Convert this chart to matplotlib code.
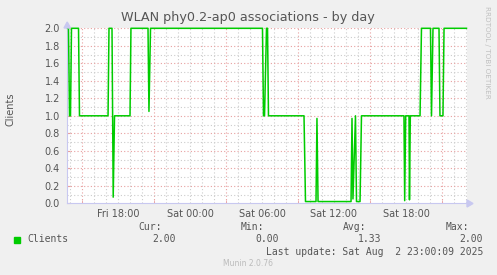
import matplotlib
matplotlib.use("Agg")
import matplotlib.pyplot as plt
import numpy as np

# hours since Fri 00:00 and number of associated clients
hours = [13.79, 13.875, 13.96, 14.04, 14.125, 14.71, 14.79, 17.17, 17.25, 17.5,
         17.6, 17.71, 19.0, 19.08, 20.5, 20.58, 20.71, 30.04, 30.125, 30.21,
         30.375, 30.46, 30.54, 33.5, 33.625, 34.5, 34.58, 34.67, 37.42, 37.5,
         37.58, 37.79, 37.875, 38.17, 38.29, 41.83, 41.89, 41.975, 42.25, 42.29,
         42.36, 43.17, 43.29, 44.04, 44.125, 44.25, 44.75, 44.83, 45.08, 45.17,
         47.04]
clients = [2.0, 2.0, 1.0, 1.0, 2.0, 2.0, 1.0, 1.0, 2.0, 2.0,
           0.07, 1.0, 1.0, 2.0, 2.0, 1.05, 2.0, 2.0, 1.0, 1.0,
           2.0, 2.0, 1.0, 1.0, 0.02, 0.02, 0.97, 0.02, 0.02, 0.97,
           0.05, 1.0, 0.02, 0.02, 1.0, 1.0, 0.03, 1.0, 1.0, 0.04,
           1.0, 1.0, 2.0, 2.0, 1.0, 2.0, 2.0, 1.0, 1.0, 2.0,
           2.0]

tick_hours = [18, 24, 30, 36, 42]
tick_labels = ["Fri 18:00", "Sat 00:00", "Sat 06:00", "Sat 12:00", "Sat 18:00"]
major_grid_hours = [15, 21, 27, 33, 39, 45]

stat_names = ["Cur:", "Min:", "Avg:", "Max:"]
stat_values = ["2.00", "0.00", "1.33", "2.00"]

W, H = 497, 275
bg = "#F0F0F0"
txt = "#555555"
green = "#00CC00"

fig = plt.figure(figsize=(W / 100, H / 100), dpi=100, facecolor=bg)
x0, x1 = 13.75, 13.75 + 400 / 12
ax = fig.add_axes([67 / W, 1 - 203.3 / H, 400 / W, 175 / H])
ax.set_facecolor("white")
ax.set_xlim(x0, x1)
ax.set_ylim(0, 2.0)

# grid
for h in np.arange(14, 48, 1):
    if h in major_grid_hours:
        ax.axvline(h, color="#E8A0A0", lw=0.8, ls=(0, (1, 2)), zorder=1)
    else:
        ax.axvline(h, color="#CCCCCC", lw=0.8, ls=(0, (1, 2)), zorder=1)
for i, v in enumerate(np.arange(0.1, 2.01, 0.1)):
    if (i + 1) % 2 == 0:
        ax.axhline(v, color="#E8A0A0", lw=0.8, ls=(0, (1, 2)), zorder=1)
    else:
        ax.axhline(v, color="#CCCCCC", lw=0.8, ls=(0, (1, 2)), zorder=1)

ax.plot(hours, clients, color=green, lw=1.1, zorder=3, clip_on=False)

for s in ["top", "right"]:
    ax.spines[s].set_visible(False)
for s in ["left", "bottom"]:
    ax.spines[s].set_color("#C8C8F0")
    ax.spines[s].set_linewidth(0.8)

ax.set_xticks(tick_hours)
ax.set_xticklabels(tick_labels)
ax.set_xticks(major_grid_hours, minor=True)
ax.set_yticks(np.arange(0, 2.01, 0.2))
ax.set_yticklabels([f"{v:.1f}" for v in np.arange(0, 2.01, 0.2)])
ax.tick_params(axis="x", which="major", length=0, pad=4, labelsize=7, colors=txt)
ax.tick_params(axis="x", which="minor", length=2.5, color="#E8A0A0", direction="in")
ax.tick_params(axis="y", length=2.5, color="#E8A0A0", direction="in", pad=5,
               labelsize=7, colors=txt)

# arrows
fig.patches.append(plt.Polygon([[467 / W, 1 - 200 / H], [467 / W, 1 - 207 / H], [473 / W, 1 - 203.5 / H]],
                               closed=True, transform=fig.transFigure, color="#C8C8F0"))
fig.patches.append(plt.Polygon([[64 / W, 1 - 28 / H], [70.5 / W, 1 - 28 / H], [67.2 / W, 1 - 22 / H]],
                               closed=True, transform=fig.transFigure, color="#C8C8F0"))

fig.text(248 / W, 1 - 18 / H, "WLAN phy0.2-ap0 associations - by day",
         ha="center", va="center", fontsize=9.2, color=txt)
fig.text(10 / W, 1 - 109 / H, "Clients", rotation=90, ha="center", va="center",
         fontsize=7, color=txt)
fig.text(487 / W, 1 - 52 / H, "RRDTOOL / TOBI OETIKER", rotation=270,
         ha="center", va="center", fontsize=5.2, color="#C0C0C0")

mono = "DejaVu Sans Mono"
fs = 7.0
name_x = [162, 264, 366, 469]
val_x = [176, 279, 381, 483]
for n, v, nx, vx in zip(stat_names, stat_values, name_x, val_x):
    fig.text(nx / W, 1 - 227.5 / H, n, ha="right", va="center", family=mono,
             fontsize=fs, color=txt)
    fig.text(vx / W, 1 - 239.5 / H, v, ha="right", va="center", family=mono,
             fontsize=fs, color=txt)
fig.patches.append(plt.Rectangle((14 / W, 1 - 242.5 / H), 6 / W, 6 / H,
                                 transform=fig.transFigure, color=green))
fig.text(27 / W, 1 - 239.5 / H, "Clients", ha="left", va="center", family=mono,
         fontsize=fs, color=txt)
fig.text(483 / W, 1 - 251.7 / H, "Last update: Sat Aug  2 23:00:09 2025",
         ha="right", va="center", family=mono, fontsize=fs, color=txt)
fig.text(248 / W, 1 - 264 / H, "Munin 2.0.76", ha="center", va="center",
         fontsize=5.5, color="#BBBBBB")

fig.savefig("out.png", dpi=100, facecolor=bg)
